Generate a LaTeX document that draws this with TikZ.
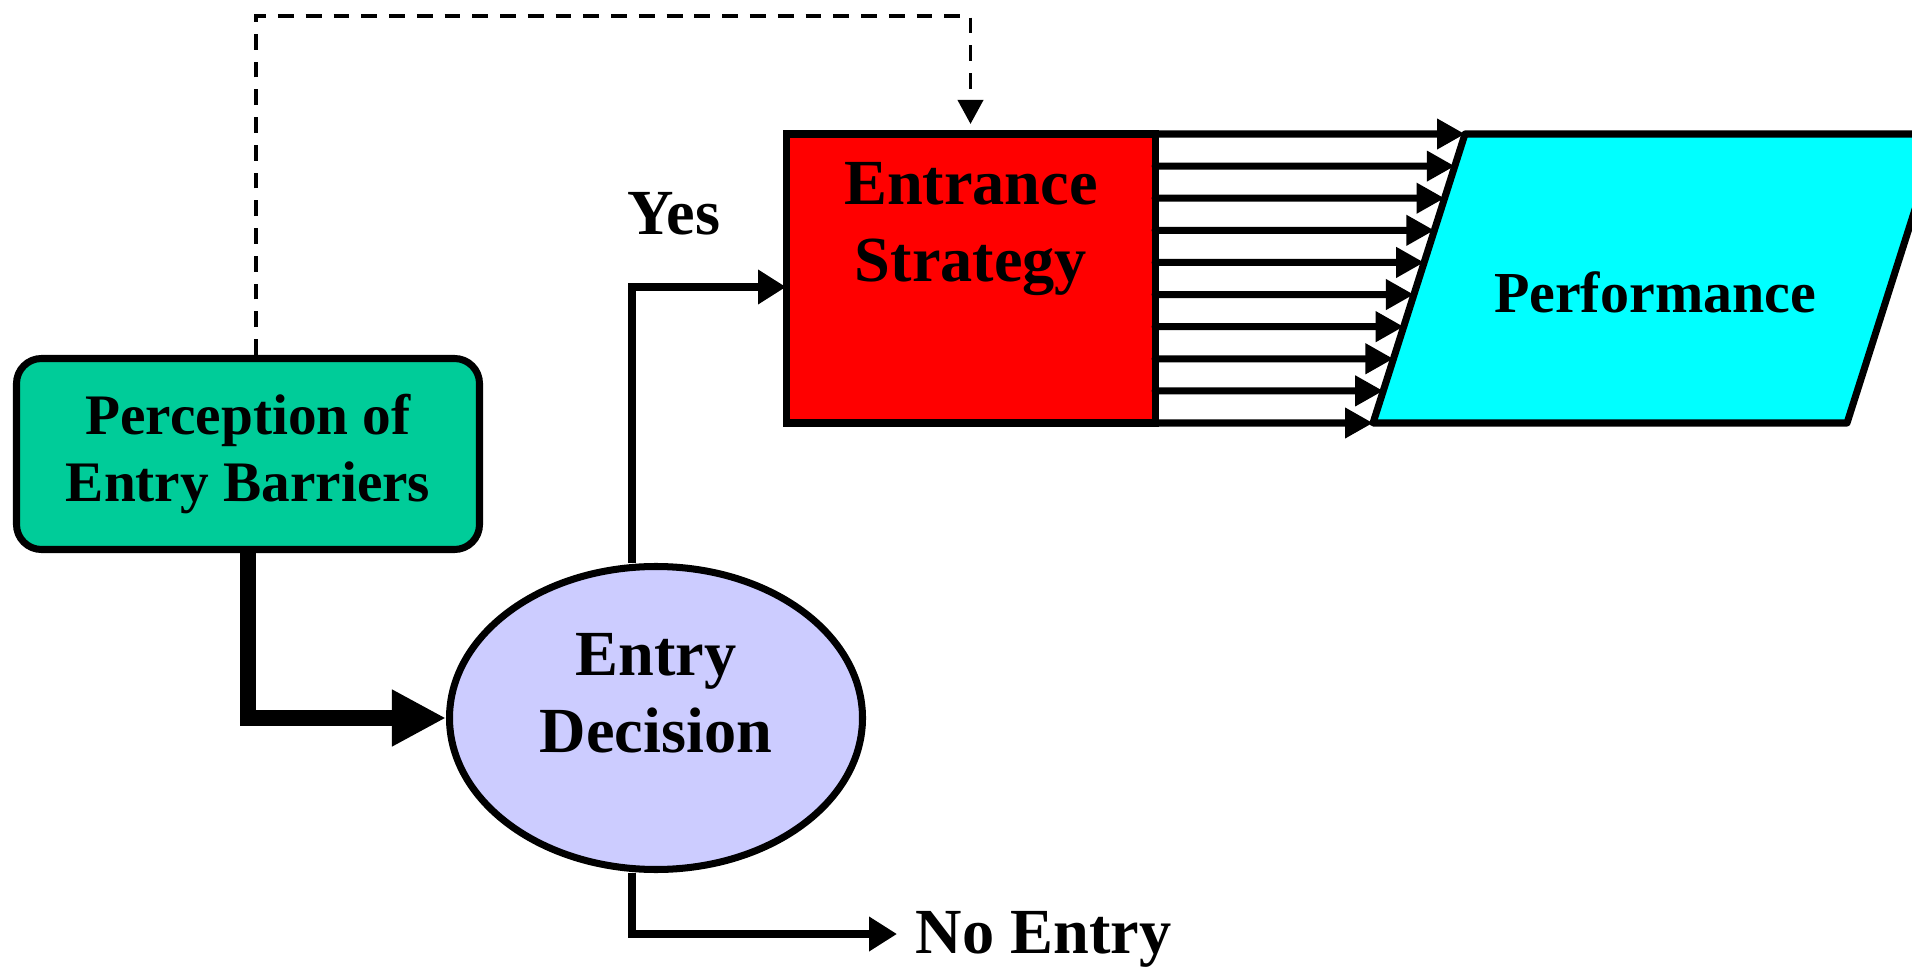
\documentclass[tikz,border=0pt]{standalone}
\usepackage{fontspec}
\setmainfont{Liberation Serif}
\usetikzlibrary{arrows.meta,positioning,shapes,calc}
\definecolor{barriergreen}{RGB}{0,204,153}
\definecolor{decisionblue}{RGB}{204,204,255}
\definecolor{perfcyan}{RGB}{0,255,255}

\begin{document}
\begin{tikzpicture}
		\tikzstyle{shapebox}=[draw,line width=2pt,inner sep=0pt]
		\tikzstyle{barrier}=[shapebox,rectangle,rounded corners=0.25cm,fill=barriergreen,minimum width=4.63cm,minimum height=1.91cm,align=center,font=\bfseries\fontsize{16.3}{19.1}\selectfont]
		\tikzstyle{strategy}=[shapebox,rectangle,outer sep=0pt,fill=red,minimum width=3.69cm,minimum height=2.89cm]
		\tikzstyle{decision}=[shapebox,ellipse,fill=decisionblue,minimum width=4.13cm,minimum height=3.03cm]
		\tikzstyle{lbltext}=[inner sep=0pt,font=\bfseries\fontsize{16.5}{19.1}\selectfont]
		\tikzstyle{bigtext}=[inner sep=0pt,align=center,font=\bfseries\fontsize{18.3}{21.8}\selectfont]
		\tikzstyle{conn}=[line width=2pt,-{Triangle[length=0.28cm,width=0.33cm]}]
		\tikzstyle{flow}=[line width=2pt,line cap=round,-{Triangle[length=0.28cm,width=0.29cm]}]
		\tikzstyle{heavy}=[line width=4.5pt,-{Triangle[length=0.54cm,width=0.53cm]}]
		\tikzstyle{feedback}=[line width=1.1pt,dash pattern=on 4.5pt off 3.4pt,-{Triangle[length=0.24cm,width=0.25cm]}]

		\clip (0,0) rectangle (19.12,9.67);

		\node[barrier] (barr) at (2.48,5.13) {Perception of\\Entry Barriers};
		\node[decision] (dec) at (6.56,2.49) {};
		\node[bigtext] (dectext) at (6.56,2.735) {Entry\\Decision};
		\node[strategy] (strat) at (9.705,6.885) {};
		\node[bigtext] (strattext) at (9.71,7.38) {Entrance\\Strategy};

		% performance block
		\coordinate (pTL) at (14.65,8.33);
		\coordinate (pBL) at (13.73,5.44);
		\draw[line width=2pt,fill=perfcyan,line join=round] (pTL) -- (pBL) -- (18.47,5.44) -- (19.39,8.33) -- cycle;
		\node[lbltext,anchor=base] (perf) at (16.55,6.54) {Performance};

		\node[bigtext,anchor=base] (yes) at (6.74,7.32) {Yes};
		\node[bigtext,anchor=base west] (noentry) at (9.15,0.14) {No Entry};
		\coordinate (noend) at (8.97,0.33);
		\coordinate (fbtop) at (9.705,9.51);

		\draw[heavy] (barr.south) |- (dec.west);
		\draw[conn] ([xshift=-2.4mm]dec.north) |- ([yshift=-0.85mm]strat.west);
		\draw[conn] ([xshift=-2.4mm]dec.south) |- (noend);
		\draw[feedback] ([xshift=0.8mm]barr.north) |- (fbtop) -- ([yshift=1mm]strat.north);

		\foreach \k in {0,...,9}
			\draw[flow] ($(strat.north east)!\k/9!(strat.south east)$) -- ($(pTL)!\k/9!(pBL)$);
\end{tikzpicture}
\end{document}
